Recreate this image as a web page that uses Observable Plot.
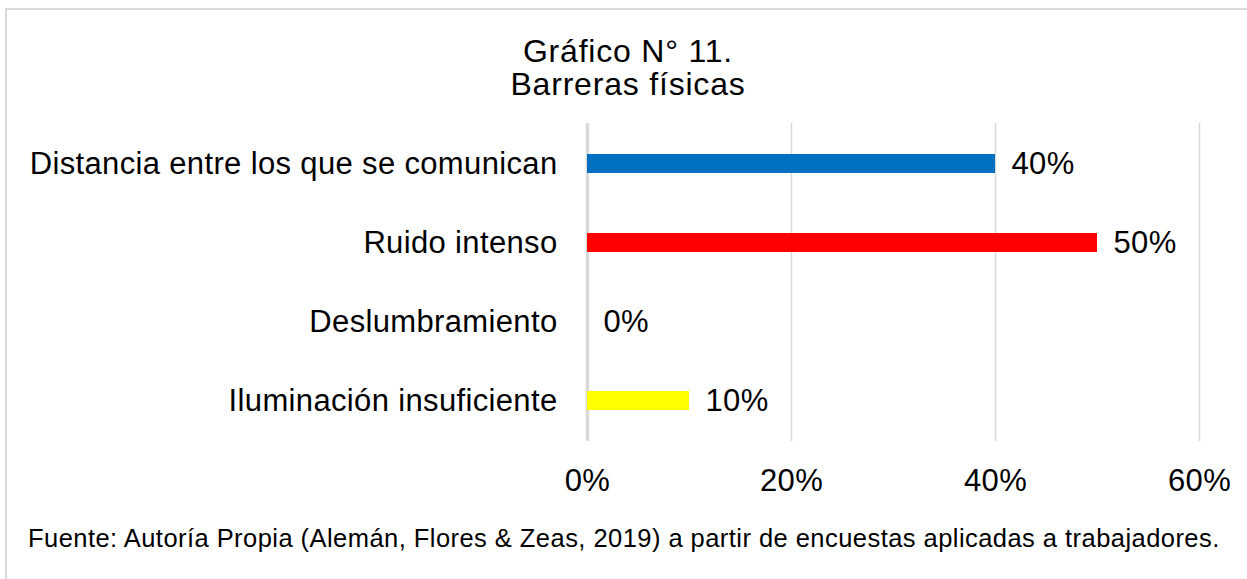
<!DOCTYPE html>
<html>
<head>
<meta charset="utf-8">
<script src="https://cdn.jsdelivr.net/npm/d3@7"></script>
<script src="https://cdn.jsdelivr.net/npm/@observablehq/plot@0.6"></script>
<style>
  html, body { margin: 0; padding: 0; background: #fff; overflow: hidden; }
  #page { position: relative; width: 1247px; height: 579px; font-family: "Liberation Sans", Arial, sans-serif; color: #000; }
  #frame { position: absolute; left: 5px; top: 8px; width: 1300px; height: 700px; border-top: 2px solid #d9d9d9; border-left: 2px solid #d9d9d9; box-sizing: border-box; }
  .title { position: absolute; left: 0; width: 1256px; text-align: center; font-size: 32px; line-height: 32px; letter-spacing: 0.8px; white-space: nowrap; }
  #chart { position: absolute; left: 0; top: 100px; }
  #caption { position: absolute; left: 28px; top: 526px; font-size: 25.5px; line-height: 25.5px; letter-spacing: 0.45px; white-space: nowrap; }
</style>
</head>
<body>
<div id="page">
  <div id="frame"></div>
  <div class="title" style="top:35px">Gráfico N° 11.</div>
  <div class="title" style="top:68px">Barreras físicas</div>
  <div id="chart"></div>
  <div id="caption">Fuente: Autoría Propia (Alemán, Flores &amp; Zeas, 2019) a partir de encuestas aplicadas a trabajadores.</div>
</div>
<script>
const categories = ["Distancia entre los que se comunican", "Ruido intenso", "Deslumbramiento", "Iluminación insuficiente"];
const values = [0.40, 0.50, 0.00, 0.10];
const colors = ["#0070C0", "#FF0000", "#FFFF00", "#FFFF00"];
const xTicks = [0, 0.2, 0.4, 0.6];

const data = categories.map((c, i) => ({cat: c, value: values[i]}));
const pct = d3.format(".0%");

const chart = Plot.plot({
  width: 1247,
  height: 400,
  marginLeft: 587,
  marginRight: 48,
  marginTop: 23,
  marginBottom: 59,
  style: {fontFamily: "Liberation Sans, Arial, sans-serif", fontSize: "31px", letterSpacing: "0.35px", color: "#000", background: "transparent", overflow: "visible"},
  x: {domain: [0, 0.6], ticks: xTicks, tickFormat: pct, tickSize: 0, tickPadding: 27, label: null},
  y: {domain: categories, paddingInner: 0.76, paddingOuter: 0.38, tickSize: 0, tickPadding: 30, label: null},
  color: {domain: categories, range: colors},
  marks: [
    Plot.ruleX(xTicks.filter(t => t > 0), {stroke: "#d9d9d9", strokeWidth: 1.5}),
    Plot.ruleX([0], {stroke: "#d9d9d9", strokeWidth: 3.5}),
    Plot.barX(data, {x: "value", y: "cat", fill: "cat"}),
    Plot.text(data, {x: "value", y: "cat", text: d => pct(d.value), textAnchor: "start", dx: 16, fontSize: 31, fill: "#000"})
  ]
});
document.getElementById("chart").appendChild(chart);
</script>
</body>
</html>
